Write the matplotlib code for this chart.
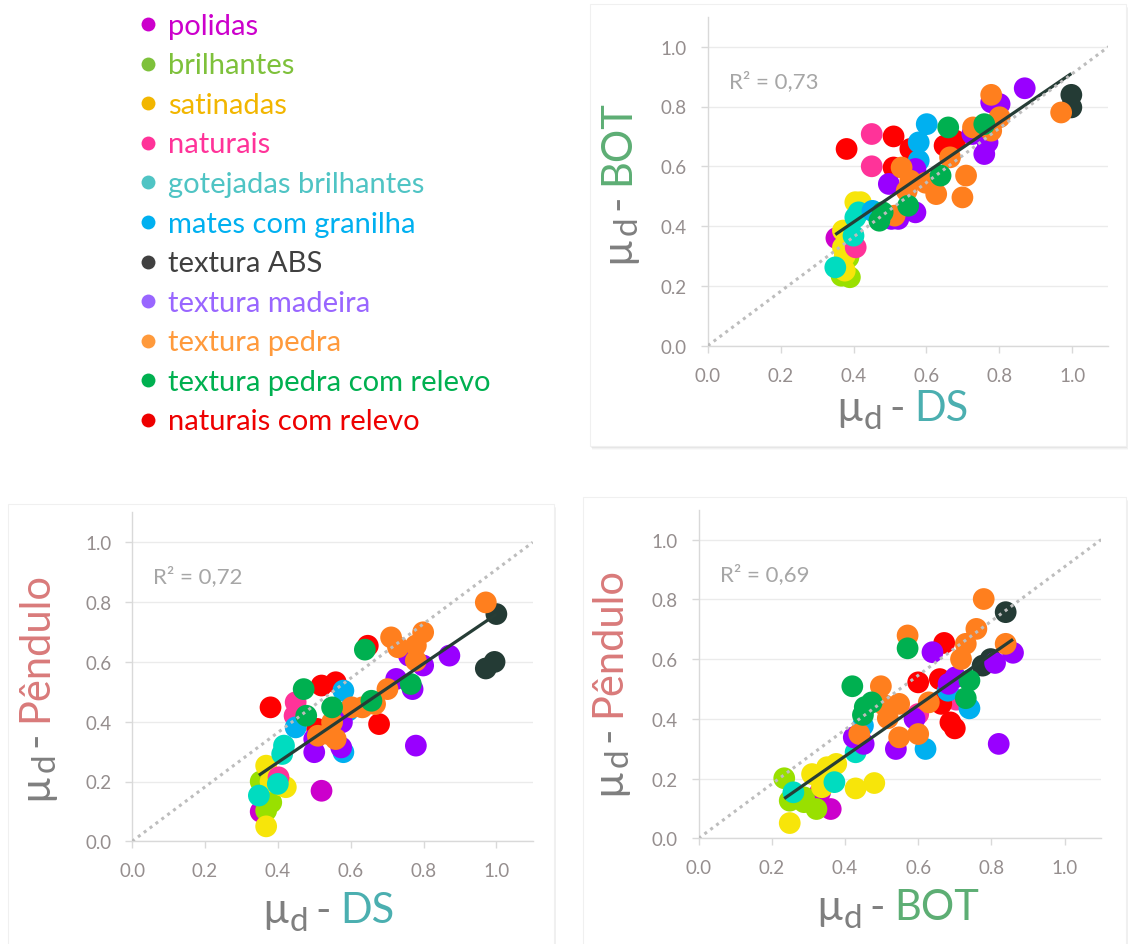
import numpy as np
import matplotlib
matplotlib.use("Agg")
import matplotlib.pyplot as plt
from matplotlib.patches import Rectangle
from matplotlib.lines import Line2D

plt.rcParams['font.family'] = ['Lato', 'DejaVu Sans']

W, H = 1130, 945

# ---------------------------------------------------------------- categories
KEYS = ["pol", "bri", "sat", "nat", "got", "mat", "abs", "mad", "ped", "pcr", "ncr"]
NAMES = ["polidas", "brilhantes", "satinadas", "naturais", "gotejadas brilhantes",
         "mates com granilha", "textura ABS", "textura madeira", "textura pedra",
         "textura pedra com relevo", "naturais com relevo"]
LEGEND_COLORS = ["#CC00CC", "#7EC13B", "#F2B600", "#FF3399", "#4FC4C4", "#00B0F0",
                 "#404040", "#9966FF", "#FF9A3C", "#00B050", "#EE0000"]
POINT_COLORS = ["#CC00CC", "#99E000", "#F7E50A", "#FF3399", "#00DCC0", "#00B0F0",
                "#243B35", "#9900FF", "#FF7F1E", "#00B050", "#FF0000"]
DRAW_ORDER = ["pol", "bri", "sat", "nat", "ncr", "got", "mat", "abs", "mad", "ped", "pcr"]

# ---------------------------------------------------------------- μd DS vs BOT
DS_BOT_CAT = (["pol"] + ["bri"] * 3 + ["sat"] * 6 + ["nat"] * 3 + ["ncr"] * 7 + ["got"] * 4
              + ["mat"] * 4 + ["abs"] * 2 + ["mad"] * 11 + ["ped"] * 14 + ["pcr"] * 6)
DS_BOT_X = [0.353,
            0.386, 0.390, 0.367,
            0.405, 0.420, 0.371, 0.371, 0.376, 0.376,
            0.450, 0.450, 0.406,
            0.510, 0.381, 0.556, 0.650, 0.679, 0.665, 0.510,
            0.414, 0.405, 0.400, 0.350,
            0.601, 0.579, 0.579, 0.452,
            0.998, 0.998,
            0.870, 0.778, 0.801, 0.726, 0.768, 0.759, 0.570, 0.497, 0.570, 0.504, 0.523,
            0.778, 0.970, 0.728, 0.778, 0.801, 0.665, 0.532, 0.556, 0.598, 0.709, 0.546,
            0.627, 0.699, 0.513,
            0.660, 0.759, 0.639, 0.550, 0.480, 0.471]
DS_BOT_Y = [0.360,
            0.295, 0.229, 0.234,
            0.480, 0.480, 0.385, 0.329, 0.301, 0.251,
            0.708, 0.600, 0.329,
            0.700, 0.658, 0.658, 0.669, 0.686, 0.672, 0.596,
            0.446, 0.429, 0.368, 0.262,
            0.741, 0.680, 0.619, 0.451,
            0.839, 0.797,
            0.861, 0.814, 0.808, 0.708, 0.680, 0.641, 0.591, 0.541, 0.446, 0.424, 0.424,
            0.839, 0.780, 0.730, 0.719, 0.764, 0.630, 0.596, 0.552, 0.545, 0.569, 0.518,
            0.507, 0.496, 0.435,
            0.730, 0.741, 0.569, 0.468, 0.446, 0.418]

# ---------------------------------------------------------------- μd DS vs Pêndulo
DS_PEN_CAT = (["pol"] * 2 + ["bri"] * 3 + ["sat"] * 5 + ["nat"] * 3 + ["ncr"] * 6 + ["got"] * 4
              + ["mat"] * 4 + ["abs"] * 3 + ["mad"] * 10 + ["ped"] * 14 + ["pcr"] * 6)
DS_PEN_X = [0.520, 0.353,
            0.353, 0.382, 0.368,
            0.368, 0.412, 0.422, 0.380, 0.368,
            0.449, 0.446, 0.402,
            0.647, 0.678, 0.520, 0.559, 0.380, 0.508,
            0.417, 0.412, 0.400, 0.348,
            0.593, 0.580, 0.449, 0.580,
            1.000, 0.971, 0.995,
            0.760, 0.799, 0.871, 0.725, 0.770, 0.779, 0.576, 0.500, 0.574, 0.500,
            0.971, 0.711, 0.799, 0.730, 0.779, 0.779, 0.701, 0.667, 0.603, 0.632, 0.549,
            0.510, 0.539, 0.559,
            0.639, 0.765, 0.657, 0.471, 0.549, 0.478]
DS_PEN_Y = [0.169, 0.099,
            0.200, 0.130, 0.103,
            0.253, 0.186, 0.181, 0.200, 0.050,
            0.465, 0.420, 0.214,
            0.654, 0.392, 0.521, 0.532, 0.448, 0.376,
            0.320, 0.292, 0.192, 0.153,
            0.437, 0.504, 0.381, 0.298,
            0.760, 0.578, 0.600,
            0.621, 0.588, 0.621, 0.543, 0.509, 0.320, 0.398, 0.342, 0.314, 0.298,
            0.799, 0.682, 0.699, 0.649, 0.655, 0.604, 0.509, 0.459, 0.448, 0.448, 0.398,
            0.353, 0.359, 0.342,
            0.641, 0.526, 0.470, 0.509, 0.448, 0.420]

# ---------------------------------------------------------------- μd BOT vs Pêndulo
BOT_PEN_CAT = (["pol"] * 2 + ["bri"] * 5 + ["sat"] * 7 + ["nat"] * 2 + ["ncr"] * 6 + ["got"] * 3
               + ["mat"] * 4 + ["abs"] * 3 + ["mad"] * 10 + ["ped"] * 14 + ["pcr"] * 7)
BOT_PEN_X = [0.332, 0.361,
             0.234, 0.249, 0.288, 0.288, 0.322,
             0.376, 0.351, 0.310, 0.480, 0.429, 0.337, 0.249,
             0.704, 0.600,
             0.671, 0.600, 0.659, 0.663, 0.688, 0.700,
             0.429, 0.371, 0.259,
             0.681, 0.740, 0.449, 0.620,
             0.839, 0.776, 0.798,
             0.639, 0.859, 0.810, 0.683, 0.702, 0.590, 0.424, 0.451, 0.539, 0.820,
             0.779, 0.759, 0.571, 0.730, 0.839, 0.717, 0.498, 0.507, 0.548, 0.629, 0.517,
             0.439, 0.548, 0.600,
             0.571, 0.740, 0.420, 0.473, 0.454, 0.449, 0.730]
BOT_PEN_Y = [0.154, 0.098,
             0.201, 0.126, 0.137, 0.121, 0.098,
             0.249, 0.238, 0.215, 0.185, 0.167, 0.171, 0.051,
             0.464, 0.416,
             0.654, 0.522, 0.533, 0.450, 0.388, 0.368,
             0.288, 0.188, 0.154,
             0.494, 0.435, 0.377, 0.299,
             0.757, 0.578, 0.600,
             0.623, 0.621, 0.587, 0.517, 0.539, 0.400, 0.338, 0.316, 0.299, 0.316,
             0.801, 0.701, 0.679, 0.651, 0.651, 0.600, 0.509, 0.446, 0.450, 0.455, 0.402,
             0.349, 0.338, 0.349,
             0.636, 0.528, 0.509, 0.455, 0.439, 0.413, 0.469]

R2_TEXTS = ["0,73", "0,72", "0,69"]

# 1:1 guide drawn across the plot area
GUIDE_X = [0.0, 1.1]
GUIDE_Y = [0.0, 1.0]

TICKS = [0.0, 0.2, 0.4, 0.6, 0.8, 1.0]
TICK_LABELS = ["0.0", "0.2", "0.4", "0.6", "0.8", "1.0"]

GRAY_TXT = "#7F7F7F"
TICK_TXT = "#958E8E"
AXIS_LINE = "#D9D9D9"
GRID = "#EBEBEB"
TREND = "#263D36"
NAME_COLORS = {"DS": "#4BAFB0", "BOT": "#5DAE74", "Pêndulo": "#D97A7A"}


def fig_xy(px, py):
    return px / W, 1 - py / H


fig = plt.figure(figsize=(W / 100, H / 100), dpi=100)
fig.patch.set_facecolor("white")


def add_card(x0, y0, x1, y1):
    for k, a in ((4, 0.035), (3, 0.05), (2, 0.07), (1, 0.09)):
        fig.add_artist(Rectangle(((x0 + k * 0.5) / W, 1 - (y1 + k) / H), (x1 - x0) / W,
                                 (y1 - y0) / H, transform=fig.transFigure,
                                 facecolor="#606060", alpha=a, edgecolor="none", zorder=-10))
    fig.add_artist(Rectangle((x0 / W, 1 - y1 / H), (x1 - x0) / W, (y1 - y0) / H,
                             transform=fig.transFigure, facecolor="white",
                             edgecolor="#F0F0F0", lw=0.8, zorder=-9))


add_card(590, 5, 1126, 447)
add_card(8, 505, 554, 950)
add_card(583, 498, 1126, 950)

# ---------------------------------------------------------------- legend
for i, (name, col) in enumerate(zip(NAMES, LEGEND_COLORS)):
    yc = 25 + i * 39.6
    fig.add_artist(Line2D([148 / W], [1 - yc / H], marker="o", markersize=10,
                          markerfacecolor=col, markeredgecolor="none",
                          linestyle="none", transform=fig.transFigure))
    fig.text(168 / W, 1 - (yc + 9.5) / H, name, color=col, fontsize=21,
             va="baseline", ha="left")


def axis_label_h(ax, x_px, base_px, name):
    t_mu = ax.annotate("µ", xy=fig_xy(x_px, base_px), xycoords="figure fraction",
                       ha="left", va="baseline", fontsize=30, color=GRAY_TXT)
    t_d = ax.annotate("d", xy=(1, 0), xycoords=t_mu, xytext=(0.5, -5),
                      textcoords="offset points", ha="left", va="bottom",
                      fontsize=24, color=GRAY_TXT)
    t_dash = ax.annotate("-", xy=(1, 0), xycoords=(t_d, t_mu), xytext=(5, 0),
                         textcoords="offset points", ha="left", va="bottom",
                         fontsize=30, color=GRAY_TXT)
    ax.annotate(name, xy=(1, 0), xycoords=t_dash, xytext=(7, 0),
                textcoords="offset points", ha="left", va="bottom",
                fontsize=30, color=NAME_COLORS[name])


def axis_label_v(ax, right_px, start_px, name):
    t_mu = ax.annotate("µ", xy=fig_xy(right_px, start_px), xycoords="figure fraction",
                       ha="right", va="bottom", rotation=90, fontsize=30, color=GRAY_TXT)
    t_d = ax.annotate("d", xy=(1, 1), xycoords=t_mu, xytext=(5, 0.5),
                      textcoords="offset points", ha="right", va="bottom",
                      rotation=90, fontsize=24, color=GRAY_TXT)
    t_dash = ax.annotate("-", xy=(1, 1), xycoords=(t_mu, t_d), xytext=(0, 5),
                         textcoords="offset points", ha="right", va="bottom",
                         rotation=90, fontsize=30, color=GRAY_TXT)
    ax.annotate(name, xy=(1, 1), xycoords=t_dash, xytext=(0, 7),
                textcoords="offset points", ha="right", va="bottom",
                rotation=90, fontsize=30, color=NAME_COLORS[name])


PANELS = [
    dict(x=DS_BOT_X, y=DS_BOT_Y, cat=DS_BOT_CAT, xname="DS", yname="BOT",
         box=(707.8, 17.8, 1108.5, 346.7), xlab=(836, 421), ylab=(636, 263)),
    dict(x=DS_PEN_X, y=DS_PEN_Y, cat=DS_PEN_CAT, xname="DS", yname="Pêndulo",
         box=(132.1, 513.4, 532.8, 842.3), xlab=(262, 923), ylab=(54, 800)),
    dict(x=BOT_PEN_X, y=BOT_PEN_Y, cat=BOT_PEN_CAT, xname="BOT", yname="Pêndulo",
         box=(698.6, 510.7, 1101.2, 839.3), xlab=(816, 920), ylab=(627, 795)),
]

for p, r2 in zip(PANELS, R2_TEXTS):
    l, t, r, b = p["box"]
    ax = fig.add_axes([l / W, 1 - b / H, (r - l) / W, (b - t) / H])
    ax.set_facecolor("none")
    ax.set_xlim(0, 1.1)
    ax.set_ylim(0, 1.1)
    ax.set_xticks(TICKS)
    ax.set_xticklabels(TICK_LABELS)
    ax.set_yticks(TICKS)
    ax.set_yticklabels(TICK_LABELS)
    for s in ("top", "right"):
        ax.spines[s].set_visible(False)
    for s in ("left", "bottom"):
        ax.spines[s].set_color(AXIS_LINE)
        ax.spines[s].set_linewidth(1.0)
    ax.tick_params(axis="both", colors=AXIS_LINE, labelcolor=TICK_TXT, labelsize=13.5,
                   length=5, width=1.0, pad=10)
    ax.grid(axis="y", color=GRID, linewidth=1.0)
    ax.set_axisbelow(True)

    xs = np.asarray(p["x"])
    ys = np.asarray(p["y"])
    cats = np.asarray(p["cat"])
    for key in DRAW_ORDER:
        m = cats == key
        if m.any():
            ax.scatter(xs[m], ys[m], s=245, color=POINT_COLORS[KEYS.index(key)],
                       edgecolors="none", zorder=3)

    slope, icpt = np.polyfit(xs, ys, 1)
    fx = np.array([xs.min(), xs.max()])
    ax.plot(fx, slope * fx + icpt, color=TREND, linewidth=2.3, zorder=4,
            solid_capstyle="butt")
    ax.plot(GUIDE_X, GUIDE_Y, color="#BDBDBD", linewidth=2.2, linestyle=(0, (1, 1.4)),
            zorder=5)

    ax.text(0.058, 0.866, "R² = " + r2, fontsize=16, color="#A6A6A6",
            ha="left", va="baseline")

    axis_label_h(ax, p["xlab"][0], p["xlab"][1], p["xname"])
    axis_label_v(ax, p["ylab"][0], p["ylab"][1], p["yname"])

fig.savefig("out.png", dpi=100, facecolor="white")
